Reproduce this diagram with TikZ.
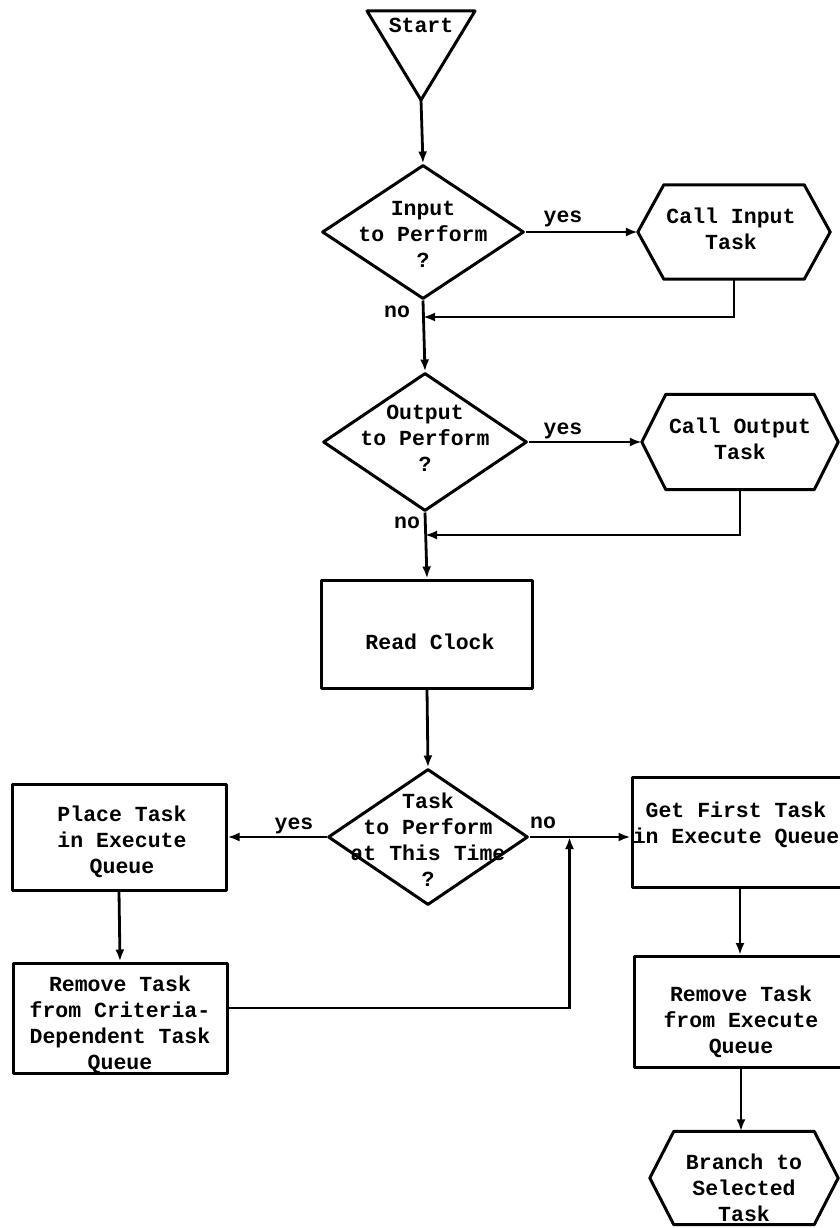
\documentclass[tikz,border=0pt]{standalone}
\usepackage{fontspec}
\setmainfont{Liberation Mono}
\usetikzlibrary{shapes.geometric,arrows.meta,calc}

% outline of a hexagonal "call" box drawn round a frame node; #2 = depth of the points
\newcommand\hexpath[2]{%
  \draw[shapeline] (#1.west) -- ($(#1.north west)+(#2,0)$) -- ($(#1.north east)+(-#2,0)$)
    -- (#1.east) -- ($(#1.south east)+(-#2,0)$) -- ($(#1.south west)+(#2,0)$) -- cycle;}

\begin{document}
\begin{tikzpicture}[x=1pt,y=-1pt,
  shapeline/.style={draw, line width=3pt, line join=round},
  procbox/.style={shapeline, rectangle, inner sep=0pt},
  decision/.style={shapeline, diamond, inner sep=0pt},
  hexframe/.style={rectangle, inner sep=0pt},
  txt/.style={align=center, inner sep=0pt, font=\bfseries\fontsize{21.5}{26}\selectfont},
  lbl/.style={inner sep=0pt, font=\bfseries\fontsize{21.5}{26}\selectfont},
  flow/.style={line width=2.8pt, -{Latex[length=12pt,width=9pt]}}
]
\useasboundingbox (0,0) rectangle (840,1228);
\fill[white] (0,0) rectangle (840,1228);
\clip (0,0) rectangle (840,1228);

% start triangle
\coordinate (stL) at (367,11);
\coordinate (stR) at (475,11);
\coordinate (stTip) at (421,100);
\draw[shapeline] (stL) -- (stR) -- (stTip) -- cycle;
\node[txt] (start) at (421,25) {Start};

% input check
\node[decision, minimum width=202pt, minimum height=134pt] (inp) at (423,232) {};
\node[txt] (inpT) at (423,234) {Input\\to Perform\\?};
\node[hexframe, minimum width=192pt, minimum height=94pt] (inhex) at (734,232) {};
\hexpath{inhex}{26}
\node[txt] (inhexT) at (731,229) {Call Input\\Task};

% output check
\node[decision, minimum width=204pt, minimum height=138pt] (outd) at (425,442) {};
\node[txt] (outdT) at (425,438) {Output\\to Perform\\?};
\node[hexframe, minimum width=196pt, minimum height=95pt] (outhex) at (740,442) {};
\hexpath{outhex}{24}
\node[txt] (outhexT) at (740,439) {Call Output\\Task};

% clock
\node[procbox, minimum width=211pt, minimum height=108pt] (clock) at (427,634) {};
\node[txt] (clockT) at (430,642) {Read Clock};

% task decision
\node[decision, minimum width=200pt, minimum height=136pt] (task) at (428,837) {};
\node[txt] (taskT) at (428,840) {Task\\to Perform\\at This Time\\?};

% left branch
\node[procbox, minimum width=214pt, minimum height=106pt] (place) at (119,837) {};
\node[txt] (placeT) at (122,842) {Place Task\\in Execute\\Queue};
\node[procbox, minimum width=214pt, minimum height=110pt] (rmcrit) at (120,1018) {};
\node[txt] (rmcritT) at (120,1025) {Remove Task\\from Criteria-\\Dependent Task\\Queue};

% right branch
\node[procbox, minimum width=216pt, minimum height=110pt] (getfirst) at (740,832) {};
\node[txt] (getfirstT) at (736,825) {Get First Task\\in Execute Queue};
\node[procbox, minimum width=213pt, minimum height=111pt] (rmexec) at (741,1012) {};
\node[txt] (rmexecT) at (741,1022) {Remove Task\\from Execute\\Queue};
\node[hexframe, minimum width=188pt, minimum height=93pt] (brhex) at (744,1178) {};
\hexpath{brhex}{24}
\node[txt] (brhexT) at (744,1188) {Branch to\\Selected\\Task};

% junction points
\coordinate (j1) at (423,317);
\coordinate (j2) at (425,535);
\coordinate (mergeup) at ($(task.east)+(40,0)$);

% connectors
\draw[flow] (stTip) -- (inp.north);
\draw[flow] (inp.east) -- (inhex.west);
\node[lbl] (yes1) at (563,219) {yes};
\draw[flow] (inhex.south) |- (j1);
\node[lbl] (no1) at (397,312) {no};
\draw[flow] (inp.south) -- (outd.north);

\draw[flow] (outd.east) -- (outhex.west);
\node[lbl] (yes2) at (563,431) {yes};
\draw[flow] (outhex.south) |- (j2);
\node[lbl] (no2) at (407,523) {no};
\draw[flow] (outd.south) -- (clock.north);

\draw[flow] (clock.south) -- (task.north);

\draw[flow] (task.west) -- (place.east);
\node[lbl] (yes3) at (294,826) {yes};
\draw[flow] (place.south) -- (rmcrit.north);
\draw[flow] ($(rmcrit.east)+(0,-10)$) -| (mergeup);

\draw[flow] (task.east) -- (task.east -| getfirst.west);
\node[lbl] (no3) at (543,823) {no};
\draw[flow] (getfirst.south) -- (getfirst.south |- rmexec.north);
\draw[flow] (rmexec.south) -- (rmexec.south |- brhex.north);
\end{tikzpicture}
\end{document}
